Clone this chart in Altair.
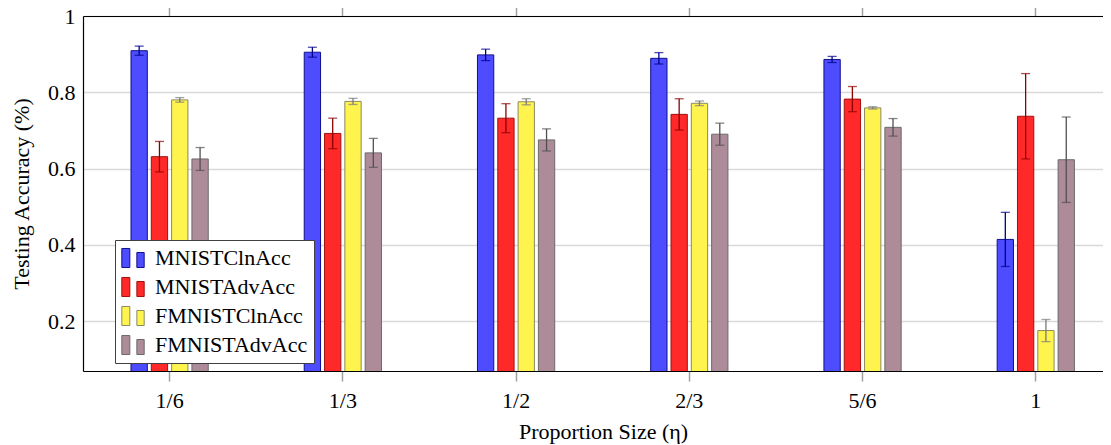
import altair as alt
import pandas as pd

categories = ["1/6", "1/3", "1/2", "2/3", "5/6", "1"]
series = ["MNISTClnAcc", "MNISTAdvAcc", "FMNISTClnAcc", "FMNISTAdvAcc"]

mnist_cln = [0.909, 0.905, 0.898, 0.889, 0.886, 0.414]
mnist_cln_err = [0.012, 0.013, 0.015, 0.015, 0.008, 0.071]
mnist_adv = [0.631, 0.692, 0.732, 0.742, 0.782, 0.737]
mnist_adv_err = [0.040, 0.040, 0.038, 0.041, 0.033, 0.112]
fmnist_cln = [0.780, 0.776, 0.775, 0.771, 0.759, 0.175]
fmnist_cln_err = [0.006, 0.008, 0.008, 0.006, 0.003, 0.029]
fmnist_adv = [0.625, 0.641, 0.675, 0.690, 0.708, 0.623]
fmnist_adv_err = [0.030, 0.038, 0.029, 0.029, 0.023, 0.112]

y_ticks = [0.2, 0.4, 0.6, 0.8, 1.0]

fill_colors = ["#4d4dff", "#ff2929", "#fff34d", "#ae8b99"]
bar_stroke_colors = ["#10108a", "#a01010", "#8a8a60", "#6a6a6a"]
err_colors = ["#00008b", "#8b0000", "#7a7a7a", "#505050"]

rows = []
for s, vals, errs in zip(series,
                         [mnist_cln, mnist_adv, fmnist_cln, fmnist_adv],
                         [mnist_cln_err, mnist_adv_err, fmnist_cln_err, fmnist_adv_err]):
    for c, v, e in zip(categories, vals, errs):
        rows.append({"cat": c, "series": s, "value": v, "lo": v - e, "hi": v + e})
df = pd.DataFrame(rows)

FONT = "Liberation Serif"

# the x range runs past the visible plot edge (the reference is cropped on the right)
x_scale = alt.Scale(domain=categories, paddingInner=0.5, paddingOuter=0.25,
                    range=[0, 1039.4], round=False)
xo_scale = alt.Scale(domain=series, paddingInner=0.197, paddingOuter=0.2308, round=False)
y_scale = alt.Scale(domain=[0.0689, 1.0], nice=False, zero=False)

xoff = alt.XOffset("series:N", scale=xo_scale)

legend_symbol = ("M-1,-0.852 L-0.283,-0.852 L-0.283,0.852 L-1,0.852 Z "
                 "M0.345,-0.493 L1,-0.493 L1,0.852 L0.345,0.852 Z")
leg = alt.Legend(title=None, orient="none", legendX=32, legendY=224,
                 symbolType=legend_symbol, symbolSize=500, symbolStrokeWidth=1,
                 labelFont=FONT, labelFontSize=22, labelColor="black",
                 labelOffset=10, rowPadding=5, padding=6, labelLimit=400,
                 fillColor="white", strokeColor="#404040")

base = alt.Chart(df)

bars = base.mark_bar(clip=True, strokeWidth=1).encode(
    x=alt.X("cat:N", scale=x_scale, title="Proportion Size (η)",
            axis=alt.Axis(orient="bottom", labelAngle=0, domainColor="black",
                          domainWidth=1.2, tickColor="#a0a0a0", tickSize=10,
                          tickWidth=1.5, labelPadding=9, titlePadding=10,
                          titleX=520, zindex=1)),
    xOffset=xoff,
    y=alt.Y("value:Q", scale=y_scale, title="Testing Accuracy (%)",
            axis=alt.Axis(values=y_ticks, format="~g", ticks=False,
                          domainColor="black", domainWidth=1.2,
                          grid=True, gridColor="#d9d9d9", gridWidth=1.6,
                          labelPadding=8, titlePadding=14)),
    fill=alt.Fill("series:N", scale=alt.Scale(domain=series, range=fill_colors), legend=leg),
    stroke=alt.Stroke("series:N", scale=alt.Scale(domain=series, range=bar_stroke_colors), legend=leg),
)

rules = base.mark_rule(strokeWidth=1.3).encode(
    x=alt.X("cat:N", scale=x_scale, title=None,
            axis=alt.Axis(orient="top", labels=False, domainColor="black",
                          domainWidth=1.2, tickColor="#a0a0a0", tickSize=9,
                          tickWidth=1.5, zindex=1)),
    xOffset=xoff,
    y=alt.Y("lo:Q", scale=y_scale),
    y2="hi:Q",
    stroke=alt.Stroke("series:N", scale=alt.Scale(domain=series, range=err_colors), legend=None),
)

caps_lo = base.mark_tick(size=9, thickness=1.3).encode(
    x=alt.X("cat:N", scale=x_scale, axis=None),
    xOffset=xoff,
    y=alt.Y("lo:Q", scale=y_scale),
    color=alt.Color("series:N", scale=alt.Scale(domain=series, range=err_colors), legend=None),
)
caps_hi = base.mark_tick(size=9, thickness=1.3).encode(
    x=alt.X("cat:N", scale=x_scale, axis=None),
    xOffset=xoff,
    y=alt.Y("hi:Q", scale=y_scale),
    color=alt.Color("series:N", scale=alt.Scale(domain=series, range=err_colors), legend=None),
)

chart = alt.layer(bars, rules, caps_lo, caps_hi).resolve_scale(
    stroke="independent", color="independent", fill="independent"
).resolve_axis(x="independent").properties(
    width=1020, height=355,
    autosize=alt.AutoSizeParams(type="none"),
    padding={"left": 75, "top": 8, "right": 0, "bottom": 74},
).configure(font=FONT).configure_view(stroke=None).configure_axis(
    labelFont=FONT, titleFont=FONT, labelFontSize=22, titleFontSize=22,
    titleFontWeight="normal", labelColor="black", titleColor="black",
)

chart.save("out.html", embed_options={"renderer": "svg", "actions": False})
